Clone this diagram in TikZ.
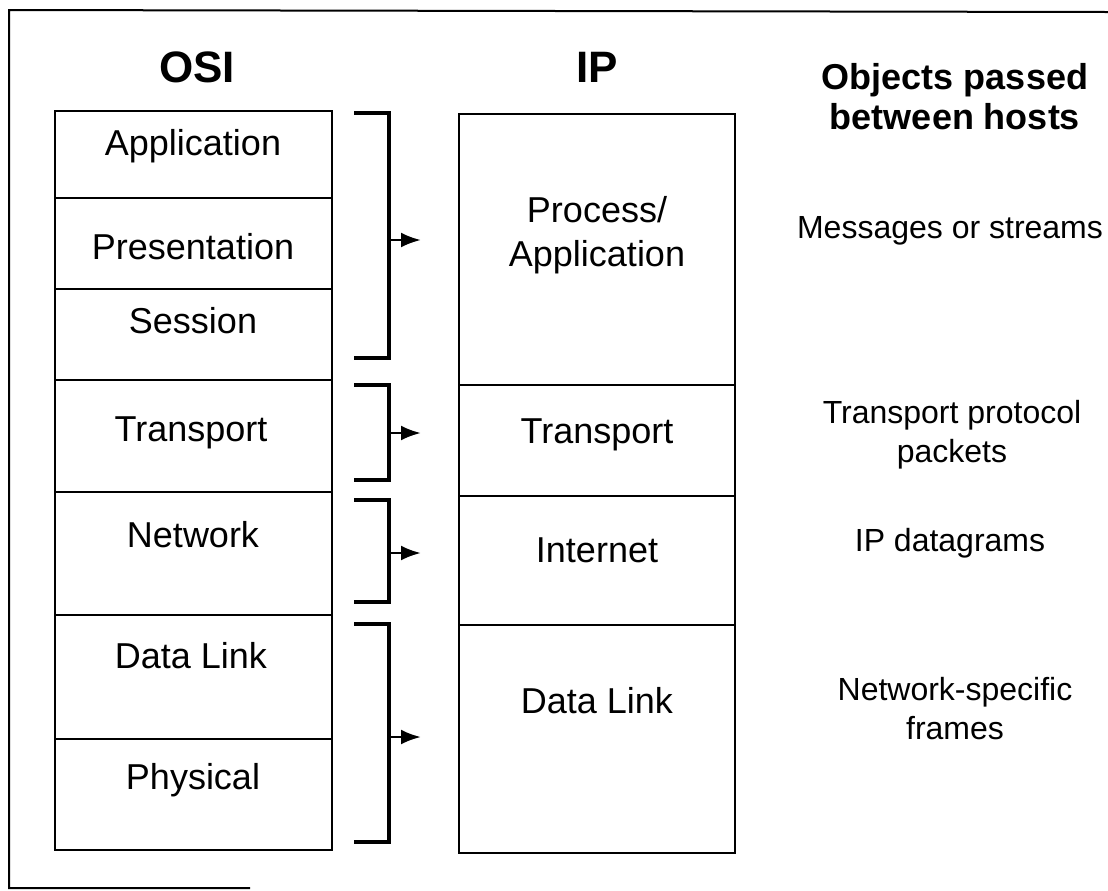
\documentclass[tikz,border=0pt]{standalone}
\usepackage{fontspec}
\setmainfont{Liberation Sans}
\usetikzlibrary{arrows.meta}
\tikzset{
  layer/.style={font=\fontsize{18}{22}\selectfont, anchor=base, align=center},
  objtext/.style={font=\fontsize{16}{19.5}\selectfont, anchor=base, align=center},
  head/.style={font=\bfseries\fontsize{18}{20}\selectfont, anchor=base, align=center},
  bighead/.style={font=\bfseries\fontsize{22}{24}\selectfont, anchor=base},
  stackline/.style={line width=1.3pt},
  brace/.style={line width=1.7pt},
  maps/.style={line width=1.4pt, -{Latex[length=10pt,width=7.5pt]}}
}
\begin{document}
\begin{tikzpicture}[x=0.5pt,y=-0.5pt]
  \useasboundingbox (0,0) rectangle (1108,890);
  \draw [line width=1pt] (1108,12) -- (9,10) -- (9,888) -- (250,888);

  \node [bighead] (osi) at (197,82) {OSI};
  \node [bighead] (ip) at (597,82) {IP};
  \node [head] (objects) at (955,129) {Objects passed\\between hosts};

  \draw [stackline] (55,111) rectangle (332,850);
  \foreach \y in {198,289,380,492,615,739}
    \draw [stackline] (55,\y) -- (332,\y);
  \node [layer] (osiapp) at (193,155) {Application};
  \node [layer] (osipres) at (193,259) {Presentation};
  \node [layer] (osisess) at (193,333) {Session};
  \node [layer] (ositrans) at (191,441) {Transport};
  \node [layer] (osinet) at (193,547) {Network};
  \node [layer] (osilink) at (191,668) {Data Link};
  \node [layer] (osiphys) at (193,789) {Physical};

  \draw [stackline] (459,114) rectangle (735,853);
  \foreach \y in {385,496,625}
    \draw [stackline] (459,\y) -- (735,\y);
  \node [layer] (ipproc) at (597,266) {Process/\\Application};
  \node [layer] (iptrans) at (597,443) {Transport};
  \node [layer] (ipinet) at (597,562) {Internet};
  \node [layer] (iplink) at (597,713) {Data Link};

  \draw [brace] (354,113) -- (389,113) -- (389,358) -- (354,358);
  \draw [brace] (354,385) -- (389,385) -- (389,480) -- (354,480);
  \draw [brace] (354,500) -- (389,500) -- (389,602) -- (354,602);
  \draw [brace] (354,624) -- (389,624) -- (389,842) -- (354,842);
  \foreach \n/\y in {1/240,2/433,3/553,4/737} {
    \coordinate (from\n) at (389,\y);
    \coordinate (to\n) at (421,\y);
    \draw [maps] (from\n) -- (to\n);
  }

  \node [objtext] (msgs) at (950,238) {Messages or streams};
  \node [objtext] (pkts) at (952,462) {Transport protocol\\packets};
  \node [objtext] (dgrams) at (950,551) {IP datagrams};
  \node [objtext] (frames) at (955,739) {Network-specific\\frames};
\end{tikzpicture}
\end{document}
